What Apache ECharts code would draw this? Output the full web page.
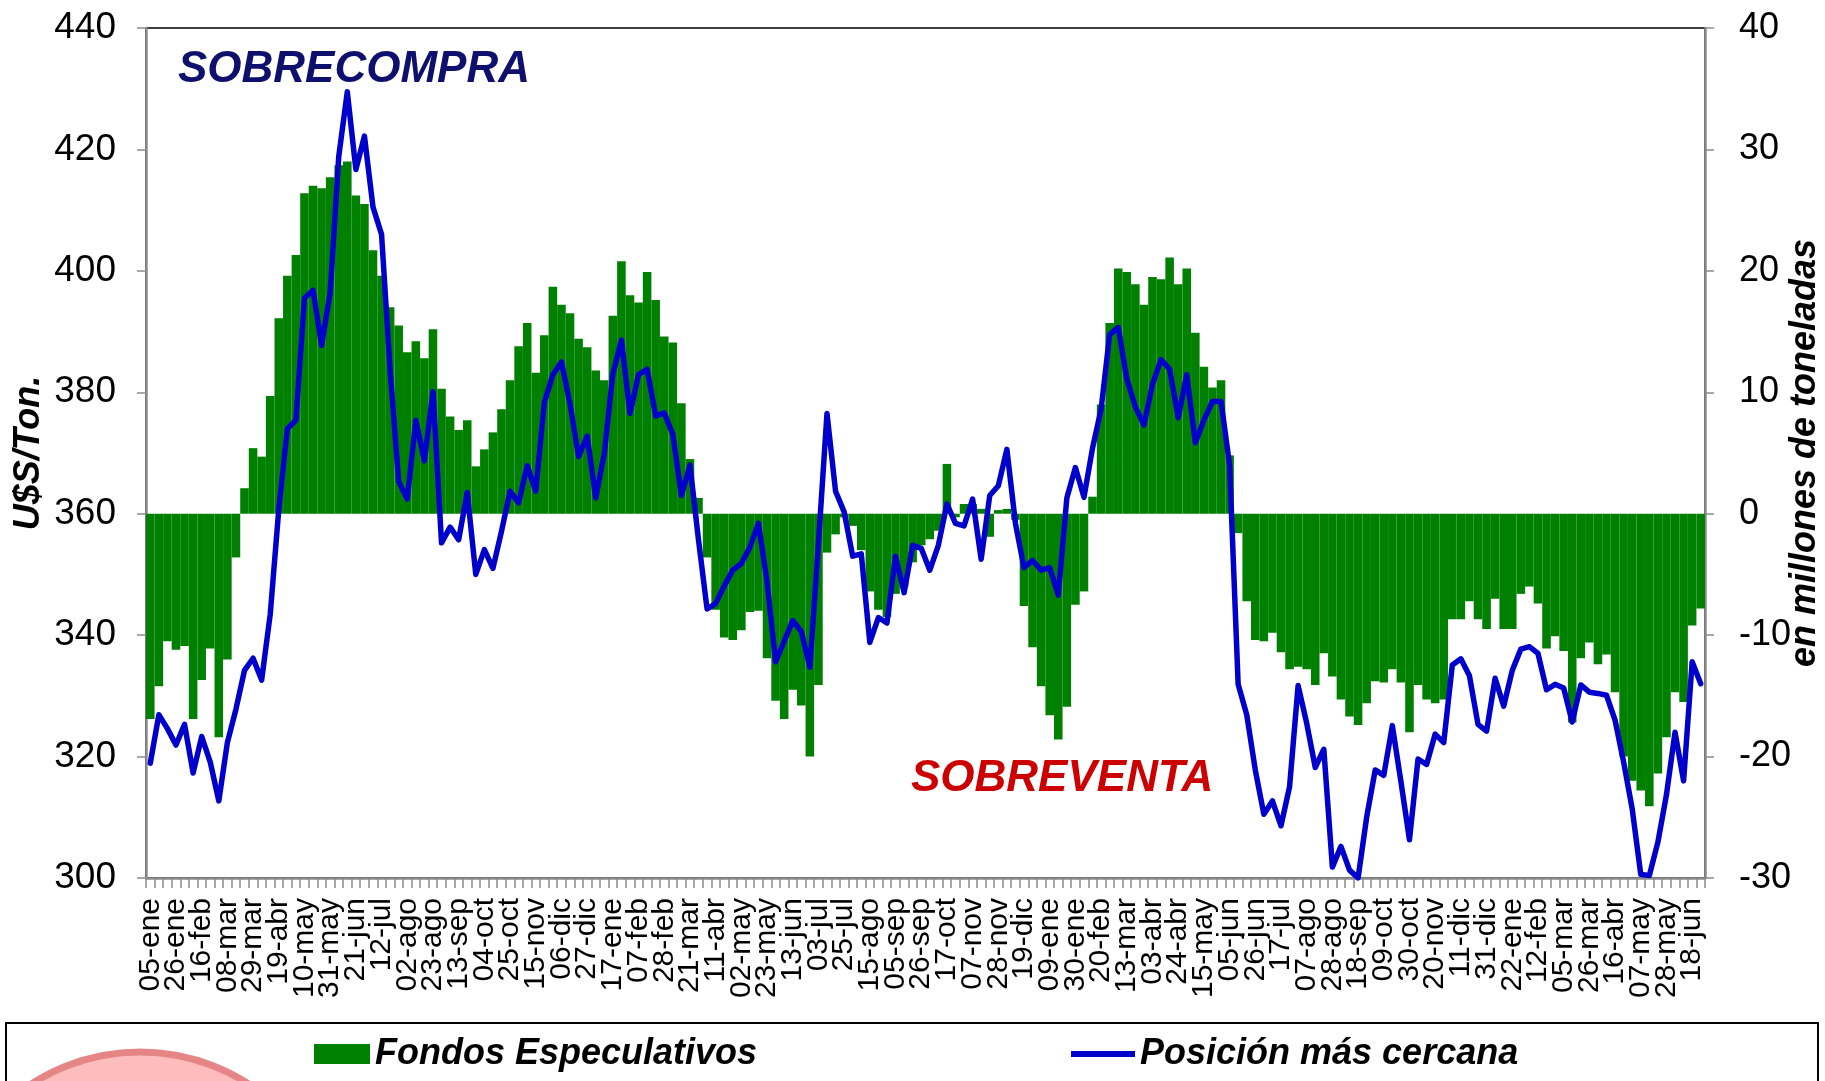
<!DOCTYPE html>
<html>
<head>
<meta charset="utf-8">
<title>Fondos especulativos vs posición más cercana</title>
<script src="https://cdn.jsdelivr.net/npm/echarts@6.0.0/dist/echarts.min.js"></script>
<style>
    html, body {margin: 0; padding: 0; background: #fff;}
    #echartdiv {width: 1825px; height: 1081px;}
</style>
</head>
<body>
<div id="echartdiv"></div>
<script>
// fechas semanales (una etiqueta cada 3 semanas)
var fechas = [
    '05-ene','12-ene','19-ene','26-ene','02-feb','09-feb','16-feb','23-feb','01-mar','08-mar','15-mar','22-mar','29-mar',
    '05-abr','12-abr','19-abr','26-abr','03-may','10-may','17-may','24-may','31-may','07-jun','14-jun','21-jun','28-jun',
    '05-jul','12-jul','19-jul','26-jul','02-ago','09-ago','16-ago','23-ago','30-ago','06-sep','13-sep','20-sep','27-sep',
    '04-oct','11-oct','18-oct','25-oct','01-nov','08-nov','15-nov','22-nov','29-nov','06-dic','13-dic','20-dic','27-dic',
    '03-ene','10-ene','17-ene','24-ene','31-ene','07-feb','14-feb','21-feb','28-feb','07-mar','14-mar','21-mar','28-mar',
    '04-abr','11-abr','18-abr','25-abr','02-may','09-may','16-may','23-may','30-may','06-jun','13-jun','20-jun','27-jun',
    '03-jul','11-jul','18-jul','25-jul','01-ago','08-ago','15-ago','22-ago','29-ago','05-sep','12-sep','19-sep','26-sep',
    '03-oct','10-oct','17-oct','24-oct','31-oct','07-nov','14-nov','21-nov','28-nov','05-dic','12-dic','19-dic','26-dic',
    '02-ene','09-ene','16-ene','23-ene','30-ene','06-feb','13-feb','20-feb','27-feb','06-mar','13-mar','20-mar','27-mar',
    '03-abr','10-abr','17-abr','24-abr','01-may','08-may','15-may','22-may','29-may','05-jun','12-jun','19-jun','26-jun',
    '03-jul','10-jul','17-jul','24-jul','31-jul','07-ago','14-ago','21-ago','28-ago','04-sep','11-sep','18-sep','25-sep',
    '02-oct','09-oct','16-oct','23-oct','30-oct','06-nov','13-nov','20-nov','27-nov','04-dic','11-dic','18-dic','25-dic',
    '31-dic','08-ene','15-ene','22-ene','29-ene','05-feb','12-feb','19-feb','26-feb','05-mar','12-mar','19-mar','26-mar',
    '02-abr','09-abr','16-abr','23-abr','30-abr','07-may','14-may','21-may','28-may','04-jun','11-jun','18-jun','25-jun'
];

// Fondos Especulativos (millones de toneladas, eje derecho)
var fondos = [
    -16.9, -14.2, -10.5, -11.2, -10.9, -16.9, -13.7, -11.1, -18.4, -12.0,
    -3.6, 2.1, 5.4, 4.7, 9.7, 16.1, 19.6, 21.3, 26.4, 27.0,
    26.8, 27.7, 28.7, 29.0, 26.2, 25.5, 21.7, 19.6, 17.0, 15.5,
    13.3, 14.2, 12.8, 15.2, 10.3, 8.0, 6.9, 7.7, 3.9, 5.3,
    6.7, 8.6, 11.0, 13.8, 15.7, 11.6, 14.7, 18.7, 17.2, 16.5,
    14.4, 13.7, 11.8, 11.0, 16.3, 20.8, 18.0, 17.4, 19.9, 17.6,
    14.6, 14.1, 9.1, 4.5, 1.3, -3.6, -7.9, -10.2, -10.4, -9.6,
    -8.1, -8.0, -11.9, -15.4, -16.9, -14.5, -15.8, -20.0, -14.1, -3.2,
    -1.7, -0.3, -1.0, -3.0, -6.4, -7.9, -8.5, -6.6, -6.0, -4.0,
    -2.6, -2.1, -1.4, 4.1, -0.3, 0.8, 0.8, 0.4, -1.9, 0.3,
    0.4, -0.5, -7.6, -11.0, -14.2, -16.6, -18.6, -15.9, -7.5, -6.4,
    1.4, 9.0, 15.7, 20.2, 19.9, 18.9, 17.2, 19.5, 19.3, 21.1,
    18.9, 20.2, 14.9, 12.1, 10.4, 11.0, 4.8, -1.6, -7.2, -10.4,
    -10.5, -9.8, -11.4, -12.8, -12.6, -12.8, -14.1, -11.5, -13.4, -15.3,
    -16.7, -17.4, -15.6, -13.8, -13.9, -12.8, -13.9, -18.0, -14.1, -15.3,
    -15.6, -15.3, -8.7, -8.7, -7.2, -8.7, -9.5, -7.0, -9.5, -9.5,
    -6.6, -6.0, -7.4, -11.1, -10.1, -11.3, -17.2, -11.9, -10.6, -12.4,
    -11.6, -14.7, -20.0, -22.0, -22.8, -24.1, -21.4, -18.4, -14.7, -15.5,
    -9.2, -7.8
];

// Posición más cercana (U$S/Ton., eje izquierdo)
var precio = [
    318.9, 326.9, 324.6, 321.9, 325.3, 317.3, 323.3, 319.1, 312.7, 322.3,
    327.8, 334.2, 336.2, 332.6, 343.4, 360.7, 374.0, 375.4, 395.5, 396.8,
    387.7, 396.4, 418.8, 429.5, 416.7, 422.2, 410.5, 406.0, 383.6, 365.3,
    362.4, 375.4, 368.7, 380.1, 355.2, 357.8, 355.7, 363.5, 350.0, 354.1,
    351.0, 357.1, 363.7, 361.8, 367.9, 363.7, 378.3, 382.9, 385.0, 378.1,
    369.4, 372.8, 362.6, 369.9, 383.0, 388.6, 376.5, 382.9, 383.8, 376.1,
    376.6, 373.1, 363.0, 368.0, 355.7, 344.3, 345.2, 348.1, 350.7, 351.8,
    354.5, 358.4, 348.8, 335.6, 339.0, 342.4, 340.6, 334.7, 355.1, 376.5,
    363.7, 360.3, 353.0, 353.4, 338.8, 342.9, 342.0, 353.0, 347.0, 354.8,
    354.3, 350.7, 354.8, 361.6, 358.4, 358.0, 362.4, 352.5, 363.0, 364.6,
    370.6, 358.4, 351.1, 352.3, 350.7, 351.1, 346.6, 362.6, 367.6, 362.7,
    370.8, 377.2, 389.5, 390.7, 382.2, 377.6, 374.6, 381.3, 385.4, 383.8,
    375.8, 382.9, 371.7, 375.4, 378.5, 378.5, 368.0, 331.9, 326.9, 317.8,
    310.5, 312.7, 308.6, 315.0, 331.7, 325.5, 318.2, 321.2, 301.8, 305.2,
    301.3, 300.0, 310.0, 317.8, 316.9, 325.1, 315.9, 306.3, 319.6, 318.7,
    323.7, 322.3, 335.1, 336.1, 333.3, 325.3, 324.2, 332.9, 328.3, 334.2,
    337.7, 338.1, 337.0, 331.0, 331.9, 331.3, 325.7, 331.8, 330.6, 330.4,
    330.1, 326.0, 319.1, 311.4, 300.6, 300.4, 305.9, 313.7, 324.0, 316.0,
    335.6, 332.0
];

var fuente = 'Liberation Sans, Arial, sans-serif';
var gris = '#8c8c8c';
var estiloLeyenda = {fontSize: 36, fontWeight: 'bold', fontStyle: 'italic', color: '#000', fontFamily: fuente};

function show_chart() {
    var dom = document.getElementById("echartdiv");
    var myChart = echarts.init(dom, null, {renderer: 'canvas'});

    var option = {
        animation: false,
        backgroundColor: '#fff',
        textStyle: {fontFamily: fuente},
        grid: {
            left: 146,
            right: 120,
            top: 28,
            bottom: 203,
            outerBoundsMode: 'none',
            containLabel: false,
            show: true,
            borderColor: '#000',
            borderWidth: 1.5
        },
        legend: [
            {
                data: ['Fondos Especulativos'],
                left: 314,
                top: 1036,
                padding: 0,
                icon: 'rect',
                itemWidth: 56,
                itemHeight: 20,
                textStyle: estiloLeyenda
            },
            {
                data: ['Posición más cercana'],
                left: 1071,
                top: 1036,
                padding: 0,
                icon: 'rect',
                itemWidth: 64,
                itemHeight: 6,
                textStyle: estiloLeyenda
            }
        ],
        xAxis: {
            type: 'category',
            data: fechas,
            boundaryGap: true,
            axisLine: {onZero: false, lineStyle: {color: gris, width: 2.5}},
            axisTick: {show: true, interval: 0, length: 10, lineStyle: {color: gris, width: 1.5}},
            axisLabel: {
                interval: 0,
                // solo una fecha cada tres semanas
                formatter: function (value, index) {
                    return index % 3 === 0 ? value : '';
                },
                rotate: 90,
                margin: 20,
                fontSize: 30,
                color: '#000',
                fontFamily: fuente
            },
            splitLine: {show: false}
        },
        yAxis: [
            {
                type: 'value',
                min: 300,
                max: 440,
                interval: 20,
                name: 'U$S/Ton.',
                nameLocation: 'middle',
                nameRotate: 90,
                nameGap: 99,
                nameMoveOverlap: false,
                nameTextStyle: {fontSize: 36, fontWeight: 'bold', fontStyle: 'italic', color: '#000', fontFamily: fuente},
                axisLine: {show: true, lineStyle: {color: gris, width: 2.5}},
                axisTick: {show: true, length: 9, lineStyle: {color: gris, width: 1.5}},
                axisLabel: {margin: 30, fontSize: 37, color: '#000', fontFamily: fuente},
                splitLine: {show: false}
            },
            {
                type: 'value',
                min: -30,
                max: 40,
                interval: 10,
                position: 'right',
                name: 'en millones de toneladas',
                nameLocation: 'middle',
                nameRotate: 90,
                nameGap: 82,
                nameMoveOverlap: false,
                nameTextStyle: {fontSize: 36, fontWeight: 'bold', fontStyle: 'italic', color: '#000', fontFamily: fuente},
                axisLine: {show: true, lineStyle: {color: gris, width: 2.5}},
                axisTick: {show: true, length: 9, lineStyle: {color: gris, width: 1.5}},
                axisLabel: {margin: 34, fontSize: 36, color: '#000', fontFamily: fuente},
                splitLine: {show: false}
            }
        ],
        series: [
            {
                name: 'Fondos Especulativos',
                type: 'bar',
                yAxisIndex: 1,
                data: fondos,
                barCategoryGap: '0%',
                itemStyle: {color: '#008000'}
            },
            {
                name: 'Posición más cercana',
                type: 'line',
                yAxisIndex: 0,
                data: precio,
                showSymbol: false,
                symbol: 'none',
                itemStyle: {color: '#0000cc'},
                lineStyle: {color: '#0000cc', width: 5.5, cap: 'round', join: 'round'}
            }
        ],
        graphic: [
            {
                type: 'text',
                left: 178,
                top: 48,
                style: {text: 'SOBRECOMPRA', fill: '#0f0f6e', font: 'italic bold 44px ' + fuente}
            },
            {
                type: 'text',
                left: 911,
                top: 757,
                style: {text: 'SOBREVENTA', fill: '#cc0000', font: 'italic bold 44px ' + fuente}
            },
            {
                type: 'rect',
                shape: {x: 6, y: 1023, width: 1812, height: 100},
                style: {fill: 'none', stroke: '#000', lineWidth: 2}
            },
            {
                type: 'circle',
                shape: {cx: 140, cy: 1252, r: 200},
                style: {fill: '#ffbcbc', stroke: '#e58585', lineWidth: 7}
            }
        ]
    };

    myChart.setOption(option);
}

show_chart();
</script>
</body>
</html>
